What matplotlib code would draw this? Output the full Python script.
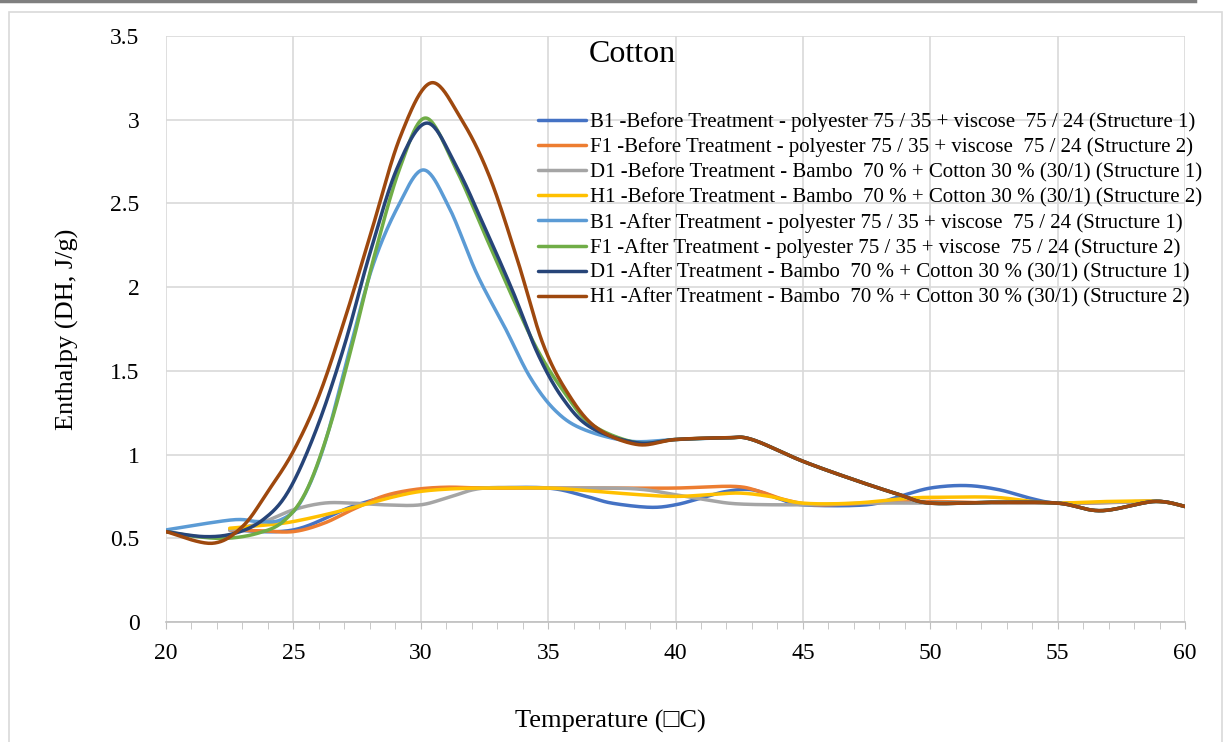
import numpy as np
import matplotlib
matplotlib.use("Agg")
import matplotlib.pyplot as plt
from matplotlib.patches import Rectangle
from matplotlib.ticker import MultipleLocator

plt.rcParams['font.family'] = ['Liberation Serif', 'DejaVu Sans']

# ---- data (temperature in C, enthalpy in J/g) ----
b1_before_t = [22.5, 25, 27.5, 30, 32.5, 35, 36.5, 37.5, 39, 40, 41, 42, 43, 44, 45, 47.5, 48.8, 50, 51.4, 52.7, 53.9, 55, 57, 59, 60]
b1_before_h = [0.55, 0.55, 0.70, 0.79, 0.80, 0.80, 0.75, 0.71, 0.685, 0.70, 0.74, 0.78, 0.79, 0.74, 0.70, 0.70, 0.75, 0.80, 0.815, 0.79, 0.74, 0.71, 0.715, 0.72, 0.69]

f1_before_t = [22.5, 23.7, 25, 26.2, 27.3, 28.5, 29.7, 31, 32.5, 35, 37.5, 40, 42.3, 43.3, 44.3, 45.5, 47.5, 50, 52.5, 55, 57.5, 59, 60]
f1_before_h = [0.55, 0.545, 0.54, 0.59, 0.67, 0.75, 0.79, 0.805, 0.80, 0.80, 0.80, 0.80, 0.81, 0.78, 0.73, 0.70, 0.71, 0.72, 0.71, 0.71, 0.715, 0.72, 0.69]

d1_before_t = [22.5, 23.7, 25, 26.2, 27.3, 28.5, 30, 31.2, 32.5, 35, 37.5, 38.8, 40, 41.2, 42.5, 45, 47.5, 50, 52.5, 55, 57.5, 59, 60]
d1_before_h = [0.55, 0.59, 0.67, 0.71, 0.71, 0.70, 0.70, 0.75, 0.80, 0.80, 0.80, 0.79, 0.76, 0.73, 0.705, 0.70, 0.71, 0.71, 0.71, 0.71, 0.715, 0.72, 0.69]

h1_before_t = [22.5, 24, 25, 26.5, 28, 29, 30, 31.2, 32.5, 35, 36.5, 38.6, 40, 41.3, 42.5, 43.7, 45, 47, 49.2, 50.5, 52.5, 54, 55, 57, 59, 60]
h1_before_h = [0.56, 0.58, 0.60, 0.65, 0.71, 0.75, 0.78, 0.795, 0.80, 0.80, 0.785, 0.76, 0.75, 0.76, 0.77, 0.75, 0.71, 0.71, 0.74, 0.745, 0.745, 0.72, 0.71, 0.72, 0.72, 0.69]

b1_after_t = [20, 22.6, 23.6, 24.5, 25.3, 26.2, 27.2, 28.1, 29.1, 30.1, 31.1, 32.2, 33.3, 34.3, 35.3, 36.4, 38.2, 40, 42, 43, 45, 47, 48.8, 50, 52.5, 55, 56.7, 58.8, 60]
b1_after_h = [0.55, 0.61, 0.60, 0.61, 0.72, 1.05, 1.62, 2.12, 2.48, 2.70, 2.48, 2.08, 1.76, 1.46, 1.26, 1.15, 1.08, 1.09, 1.10, 1.09, 0.96, 0.85, 0.76, 0.71, 0.715, 0.71, 0.665, 0.72, 0.69]

f1_after_t = [20, 21.2, 22.4, 23.6, 24.6, 25.5, 26.4, 27.3, 28.2, 29.2, 30.2, 31.4, 32.5, 33.6, 34.6, 35.6, 36.7, 38.5, 40, 42, 43, 45, 47, 48.8, 50, 52.5, 55, 56.7, 58.8, 60]
f1_after_h = [0.54, 0.51, 0.50, 0.53, 0.60, 0.78, 1.15, 1.65, 2.20, 2.72, 3.01, 2.70, 2.32, 1.94, 1.62, 1.38, 1.18, 1.07, 1.09, 1.10, 1.09, 0.96, 0.85, 0.76, 0.71, 0.715, 0.71, 0.665, 0.72, 0.69]

d1_after_t = [20, 21.5, 22.7, 23.8, 24.8, 25.9, 27, 28, 29.1, 30.25, 31.4, 32.5, 33.6, 34.6, 35.6, 36.7, 38.5, 40, 42, 43, 45, 47, 48.8, 50, 52.5, 55, 56.7, 58.8, 60]
d1_after_h = [0.54, 0.51, 0.53, 0.61, 0.78, 1.15, 1.65, 2.20, 2.72, 2.98, 2.72, 2.36, 1.98, 1.60, 1.33, 1.16, 1.07, 1.09, 1.10, 1.09, 0.96, 0.85, 0.76, 0.71, 0.715, 0.71, 0.665, 0.72, 0.69]

h1_after_t = [20, 21.8, 23, 24, 25, 26, 27, 28, 29.2, 30.4, 31.6, 32.7, 33.8, 34.8, 35.8, 36.9, 38.5, 40, 42, 43, 45, 47, 48.8, 50, 52.5, 55, 56.7, 58.8, 60]
h1_after_h = [0.54, 0.47, 0.57, 0.78, 1.02, 1.35, 1.80, 2.30, 2.90, 3.22, 3.00, 2.66, 2.16, 1.66, 1.36, 1.16, 1.06, 1.09, 1.10, 1.09, 0.96, 0.85, 0.76, 0.71, 0.715, 0.71, 0.665, 0.72, 0.69]

labels = [
    "B1 -Before Treatment - polyester 75 / 35 + viscose  75 / 24 (Structure 1)",
    "F1 -Before Treatment - polyester 75 / 35 + viscose  75 / 24 (Structure 2)",
    "D1 -Before Treatment - Bambo  70 % + Cotton 30 % (30/1) (Structure 1)",
    "H1 -Before Treatment - Bambo  70 % + Cotton 30 % (30/1) (Structure 2)",
    "B1 -After Treatment - polyester 75 / 35 + viscose  75 / 24 (Structure 1)",
    "F1 -After Treatment - polyester 75 / 35 + viscose  75 / 24 (Structure 2)",
    "D1 -After Treatment - Bambo  70 % + Cotton 30 % (30/1) (Structure 1)",
    "H1 -After Treatment - Bambo  70 % + Cotton 30 % (30/1) (Structure 2)",
]
colors = ["#4472C4", "#ED7D31", "#A5A5A5", "#FFC000",
          "#5B9BD5", "#70AD47", "#264478", "#9E480E"]

series = [
    (b1_before_t, b1_before_h), (f1_before_t, f1_before_h),
    (d1_before_t, d1_before_h), (h1_before_t, h1_before_h),
    (b1_after_t, b1_after_h), (f1_after_t, f1_after_h),
    (d1_after_t, d1_after_h), (h1_after_t, h1_after_h),
]


def smooth(xs, ys, n=25):
    # Excel style smoothed line: cubic bezier through the points
    p = np.column_stack([xs, ys]).astype(float)
    q = np.vstack([p[0], p, p[-1]])
    t = np.linspace(0, 1, n)[:, None]
    out = []
    for i in range(len(p) - 1):
        p0, p3 = q[i + 1], q[i + 2]
        c1 = p0 + (q[i + 2] - q[i]) / 6
        c2 = p3 - (q[i + 3] - q[i + 1]) / 6
        out.append((1 - t) ** 3 * p0 + 3 * (1 - t) ** 2 * t * c1
                   + 3 * (1 - t) * t ** 2 * c2 + t ** 3 * p3)
    out = np.vstack(out)
    return out[:, 0], out[:, 1]


fig = plt.figure(figsize=(12.26, 7.42), dpi=100)
ax = fig.add_axes([166 / 1226, 120 / 742, 1019 / 1226, 586 / 742])

fig.patches.append(Rectangle((9 / 1226, -0.05), 1213 / 1226, (742 - 12) / 742 + 0.05,
                             transform=fig.transFigure, fill=False,
                             edgecolor="#D9D9D9", linewidth=1.2))
fig.add_artist(plt.Line2D([0, 1195 / 1226], [0.998, 0.998], transform=fig.transFigure,
                          color="#7F7F7F", linewidth=2.5))

for (xs, ys), lab, col in zip(series, labels, colors):
    sx, sy = smooth(xs, ys)
    ax.plot(sx, sy, color=col, linewidth=2.5, label=lab, solid_capstyle="round")

ax.set_xlim(20, 60)
ax.set_ylim(0, 3.5)
ax.xaxis.set_major_locator(MultipleLocator(5))
ax.xaxis.set_minor_locator(MultipleLocator(1))
ax.set_yticks(np.arange(0, 3.51, 0.5))
ax.set_yticklabels(["0", "0.5", "1", "1.5", "2", "2.5", "3", "3.5"])
ax.grid(True, which="major", color="#D9D9D9", linewidth=1.2)
ax.set_axisbelow(True)
for s in ["top", "right", "left"]:
    ax.spines[s].set_visible(False)
ax.spines["bottom"].set_color("#BFBFBF")
ax.spines["bottom"].set_linewidth(1.2)
ax.tick_params(axis="x", which="both", direction="out", color="#BFBFBF", length=5,
               labelsize=17, pad=10)
ax.tick_params(axis="y", length=0, labelsize=17, pad=19)

ax.set_xlabel("Temperature (\u25a1C)", fontsize=19)
ax.xaxis.set_label_coords((610 - 166) / 1019, -0.15)
ax.set_ylabel("Enthalpy (DH, J/g)", fontsize=19)
ax.yaxis.set_label_coords(-0.085, 0.5)

fig.text(632 / 1226, (742 - 55) / 742, "Cotton", fontsize=23, ha="center", va="center")

ax.legend(loc="upper left", bbox_to_anchor=(538 / 1226, (742 - 112) / 742),
          bbox_transform=fig.transFigure, frameon=False, fontsize=15,
          handlelength=2.3, handletextpad=0.2, labelspacing=0.26,
          borderpad=0, borderaxespad=0)

fig.savefig("out.png", dpi=100)
